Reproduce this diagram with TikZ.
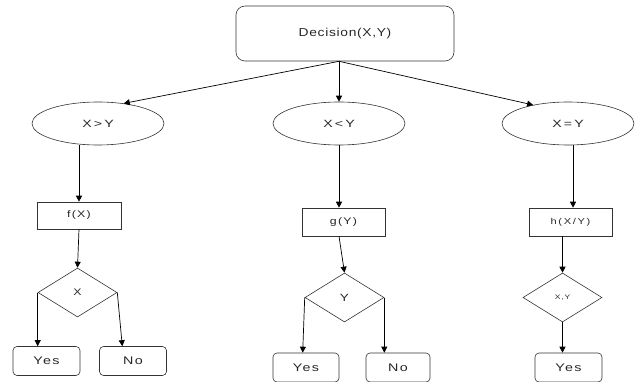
\documentclass[tikz,border=0pt]{standalone}
\usepackage{graphicx}
\usepackage{fontspec}
\setmainfont{Liberation Sans}
\newfontfamily\lsA[LetterSpace=5]{Liberation Sans}
\newfontfamily\lsB[LetterSpace=10]{Liberation Sans}
\newfontfamily\lsC[LetterSpace=15]{Liberation Sans}
\newcommand\wtxt[2][1.3]{\scalebox{#1}[1]{#2}}
\usetikzlibrary{shapes.geometric,arrows.meta}
\begin{document}
\begin{tikzpicture}[x=1pt,y=-1pt,
  shp/.style={draw=black!80,line width=0.6pt,inner sep=0pt,text=black!85},
  ell/.style={shp,ellipse,minimum width=132pt,minimum height=43pt,font=\lsC\fontsize{10.5}{12}\selectfont},
  fbox/.style={shp,rectangle,font=\lsB\fontsize{9.5}{11}\selectfont},
  dia/.style={shp,diamond,minimum width=79pt,minimum height=49pt,font=\lsB\fontsize{9.5}{11}\selectfont},
  rbox/.style={shp,rectangle,rounded corners=4pt,minimum width=67pt,minimum height=29pt,font=\lsB\fontsize{11}{13}\selectfont},
  arr/.style={draw=black,line width=0.7pt,-{Triangle[length=6pt,width=6pt]}}]
\useasboundingbox (0,0) rectangle (637,382);
% top
\node[shp,rectangle,rounded corners=9pt,minimum width=218pt,minimum height=55pt,font=\lsA\fontsize{11.5}{13}\selectfont] (dec) at (345,33.5) {\wtxt[1.2]{Decision(X,Y)}};
% ellipses
\node[ell] (e1) at (98,123.5) {\wtxt[1.35]{X>Y}};
\node[ell] (e2) at (339,123.5) {\wtxt[1.35]{X<Y}};
\node[ell] (e3) at (568,123.5) {\wtxt[1.35]{X=Y}};
% function boxes
\node[fbox,minimum width=84pt,minimum height=27pt] (f) at (79,215.5) {\wtxt{f(X)}};
\node[fbox,minimum width=83pt,minimum height=28pt] (g) at (343.5,222) {\wtxt{g(Y)}};
\node[fbox,minimum width=83pt,minimum height=28pt,font=\lsC\fontsize{8.5}{10}\selectfont] (h) at (570.5,222) {\wtxt{h(X/Y)}};
% diamonds
\node[dia] (d1) at (77.5,292.5) {\wtxt{X}};
\node[dia,font=\lsB\fontsize{10.5}{12}\selectfont] (d2) at (344.5,297.5) {\wtxt{Y}};
\node[dia,font=\lsB\fontsize{6.5}{8}\selectfont] (d3) at (562.5,297.5) {\wtxt{X,Y}};
% leaves
\node[rbox] (y1) at (46.5,361) {\wtxt{Yes}};
\node[rbox] (n1) at (133,361) {\wtxt{No}};
\node[rbox,minimum width=66pt] (y2) at (306,367.5) {\wtxt{Yes}};
\node[rbox,minimum width=64pt] (n2) at (398,367.5) {\wtxt{No}};
\node[rbox] (y3) at (568.5,367.5) {\wtxt{Yes}};
% connectors
\coordinate (ds) at (dec.south -| e2.north);
\draw[arr] (ds) -- (e1.38);
\draw[arr] (ds) -- (e2.north);
\draw[arr] (ds) -- (e3.152);
\draw[arr] (f.north |- e1.south) -- (f.north);
\draw[arr] (f.south) -- (d1.north);
\draw[arr] (d1.west) -- (d1.west |- y1.north);
\draw[arr] (d1.east) -- ([xshift=5pt]d1.east |- n1.north);
\draw[arr] (e2.south) -- (e2.south |- g.north);
\draw[arr] (g.south -| e2.south) -- (d2.north);
\draw[arr] (d2.west) -- ([xshift=-2pt]d2.west |- y2.north);
\draw[arr] (d2.east) -- (d2.east |- n2.north);
\draw[arr] ([xshift=5pt]e3.south) -- ([xshift=5pt]e3.south |- h.north);
\draw[arr] (h.south -| d3.north) -- (d3.north);
\draw[arr] (d3.south) -- (d3.south |- y3.north);
\end{tikzpicture}
\end{document}
